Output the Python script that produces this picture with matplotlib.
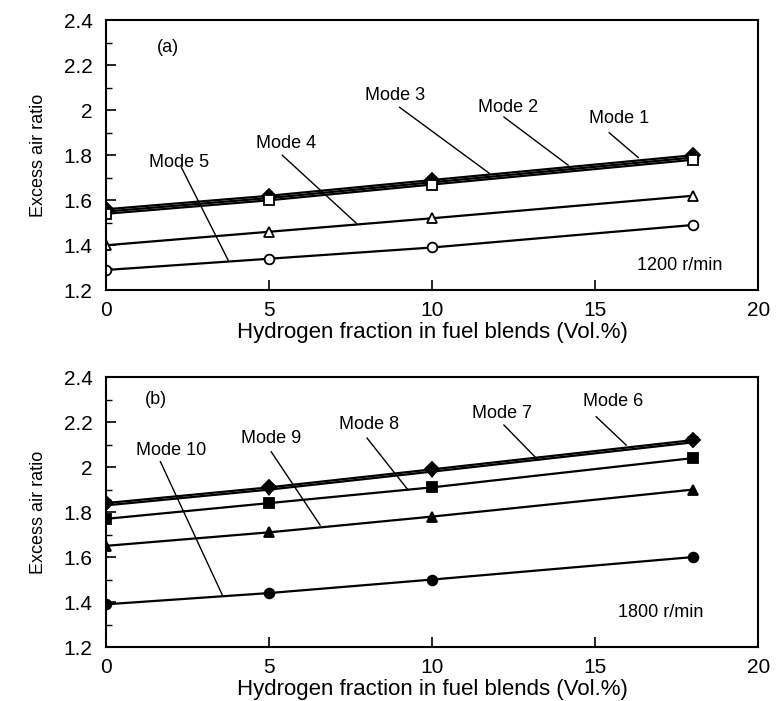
import matplotlib

matplotlib.use("Agg")
import matplotlib.pyplot as plt  # noqa: E402
from matplotlib.ticker import MultipleLocator, FormatStrFormatter  # noqa: E402

plt.rcParams["font.family"] = ["Liberation Sans", "DejaVu Sans"]

h2 = [0, 5, 10, 18]

# 1200 r/min
mode1 = [1.56, 1.62, 1.69, 1.80]
mode2 = [1.55, 1.61, 1.68, 1.79]
mode3 = [1.54, 1.60, 1.67, 1.78]
mode4 = [1.40, 1.46, 1.52, 1.62]
mode5 = [1.29, 1.34, 1.39, 1.49]

# 1800 r/min
mode6 = [1.84, 1.91, 1.99, 2.12]
mode7 = [1.83, 1.90, 1.98, 2.11]
mode8 = [1.77, 1.84, 1.91, 2.04]
mode9 = [1.65, 1.71, 1.78, 1.90]
mode10 = [1.39, 1.44, 1.50, 1.60]

fig = plt.figure(figsize=(7.76, 7.01), dpi=100)
ax1 = fig.add_axes([0.137, 0.586, 0.840, 0.385])
ax2 = fig.add_axes([0.137, 0.077, 0.840, 0.385])


def style(ax):
    ax.set_xlim(0, 20)
    ax.set_ylim(1.2, 2.4)
    ax.xaxis.set_major_locator(MultipleLocator(5))
    ax.yaxis.set_major_locator(MultipleLocator(0.2))
    ax.yaxis.set_minor_locator(MultipleLocator(0.1))
    ax.yaxis.set_major_formatter(FormatStrFormatter("%g"))
    ax.tick_params(direction="in", which="major", length=7, width=1.2,
                   labelsize=15, top=False, right=False)
    ax.tick_params(axis="y", which="major", pad=10)
    ax.tick_params(axis="x", which="major", pad=8)
    ax.tick_params(direction="in", which="minor", length=4, width=1.0,
                   top=False, right=False)
    for s in ax.spines.values():
        s.set_linewidth(1.5)
    ax.set_xlabel("Hydrogen fraction in fuel blends (Vol.%)", fontsize=16,
                  labelpad=1)
    ax.set_ylabel("Excess air ratio", fontsize=13, labelpad=12)


def leader(ax, text, txy, p0, p1, fs=13):
    ax.text(txy[0], txy[1], text, fontsize=fs, ha="center", va="center")
    ax.plot([p0[0], p1[0]], [p0[1], p1[1]], color="black", lw=1.0)


kw = dict(color="black", lw=1.6, ms=7, mew=1.3)
ax1.plot(h2, mode1, marker="D", mfc="black", **kw)
ax1.plot(h2, mode2, marker="o", mfc="black", **kw)
ax1.plot(h2, mode3, marker="s", mfc="white", **kw)
ax1.plot(h2, mode4, marker="^", mfc="white", **kw)
ax1.plot(h2, mode5, marker="o", mfc="white", **kw)
style(ax1)
ax1.text(1.9, 2.28, "(a)", fontsize=13, ha="center", va="center")
ax1.text(17.6, 1.31, "1200 r/min", fontsize=13, ha="center", va="center")
leader(ax1, "Mode 3", (8.87, 2.067), (9.0, 2.013), (11.75, 1.72))
leader(ax1, "Mode 2", (12.33, 2.013), (12.2, 1.97), (14.17, 1.756))
leader(ax1, "Mode 1", (15.74, 1.964), (15.43, 1.90), (16.32, 1.79))
leader(ax1, "Mode 4", (5.52, 1.853), (5.4, 1.80), (7.67, 1.498))
leader(ax1, "Mode 5", (2.24, 1.77), (2.3, 1.747), (3.74, 1.333))

ax2.plot(h2, mode6, marker="D", mfc="black", **kw)
ax2.plot(h2, mode7, marker="v", mfc="black", **kw)
ax2.plot(h2, mode8, marker="s", mfc="black", **kw)
ax2.plot(h2, mode9, marker="^", mfc="black", **kw)
ax2.plot(h2, mode10, marker="o", mfc="black", **kw)
style(ax2)
ax2.text(1.52, 2.30, "(b)", fontsize=13, ha="center", va="center")
ax2.text(17.0, 1.352, "1800 r/min", fontsize=13, ha="center", va="center")
leader(ax2, "Mode 6", (15.55, 2.29), (15.03, 2.224), (15.95, 2.098))
leader(ax2, "Mode 7", (12.15, 2.24), (12.2, 2.187), (13.25, 2.031))
leader(ax2, "Mode 8", (8.07, 2.19), (8.0, 2.129), (9.26, 1.898))
leader(ax2, "Mode 9", (5.06, 2.129), (5.06, 2.068), (6.56, 1.742))
leader(ax2, "Mode 10", (1.98, 2.076), (1.66, 2.024), (3.56, 1.431))

fig.savefig("out.png", dpi=100)
